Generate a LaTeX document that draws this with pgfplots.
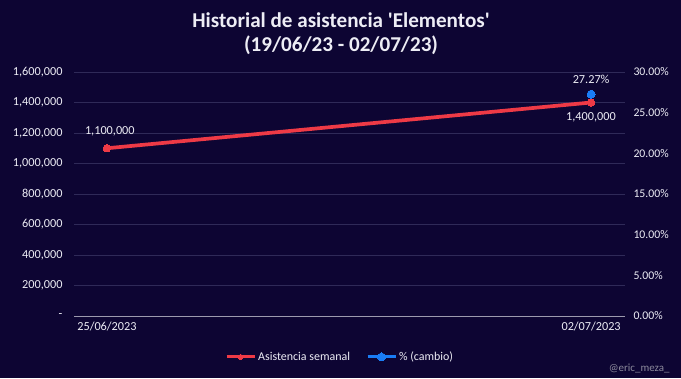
\documentclass[border=0pt]{standalone}
\usepackage{pgfplots}
\pgfplotsset{compat=1.18}
\usepackage{fontspec}
\setmainfont{Carlito}
\definecolor{bg}{HTML}{0D0533}
\definecolor{gridc}{HTML}{2F2A58}
\definecolor{txt}{HTML}{EDEDF5}
\definecolor{redl}{HTML}{EE3A46}
\definecolor{bluep}{HTML}{1A7DF5}
\definecolor{axl}{HTML}{9C9AAE}
\definecolor{wm}{HTML}{8C8A9C}
\begin{document}
\begin{tikzpicture}[x=1bp,y=1bp]
\fill[bg] (0,0) rectangle (681,378);
\path[use as bounding box] (0,0) rectangle (681,378);
\node[txt, font=\fontsize{21.2}{24}\selectfont\bfseries, align=center] at (341,344) {Historial de asistencia \textquotesingle Elementos\textquotesingle\\(19/06/23 - 02/07/23)};
\node[wm, font=\fontsize{11}{13}\selectfont, anchor=east] at (673,10) {@eric\_meza\_};
\pgfplotsset{
  common/.style={
    at={(74bp,62bp)}, anchor=south west, scale only axis,
    width=551bp, height=244bp,
    xmin=-0.068, xmax=1.07,
    /pgf/number format/assume math mode=true,
    scaled y ticks=false,
    tick label style={font=\fontsize{12.3}{14}\selectfont, text=txt},
  }
}
\begin{axis}[common,
  ymin=0, ymax=1600000,
  ytick={0,200000,400000,600000,800000,1000000,1200000,1400000,1600000},
  yticklabels={{-},{200,000},{400,000},{600,000},{800,000},{1,000,000},{1,200,000},{1,400,000},{1,600,000}},
  xtick={0,1}, xticklabels={25/06/2023,02/07/2023},
  extra x ticks={-0.068,0.928}, extra x tick labels={},
  extra x tick style={major tick length=4bp, tick style={draw=axl, line width=0.6bp}, tick align=outside},
  xtick style={draw=none}, ytick style={draw=none},
  ymajorgrids, grid style={gridc, line width=0.8bp},
  axis x line*=bottom, axis y line*=left,
  x axis line style={draw=axl, line width=0.8bp, -},
  y axis line style={draw=none},
  yticklabel style={xshift=-8bp},
  xticklabel style={yshift=-2bp},
]
\addplot[redl, line width=3.7bp, mark=*, mark size=3.7bp, mark options={fill=redl, draw=redl, line width=0bp}] coordinates {(0,1100000) (1,1400000)};
\node[txt, font=\fontsize{12.3}{14}\selectfont] at (axis cs:0.006,1100000) [yshift=17bp] {1,100,000};
\node[txt, font=\fontsize{12.3}{14}\selectfont] at (axis cs:0,1400000) [xshift=484bp, yshift=-15bp] {1,400,000};
\end{axis}
\begin{axis}[common,
  ymin=0, ymax=30,
  ytick={0,5,10,15,20,25,30},
  yticklabels={{0.00\%},{5.00\%},{10.00\%},{15.00\%},{20.00\%},{25.00\%},{30.00\%}},
  axis x line=none, axis y line*=right,
  y axis line style={draw=none}, ytick style={draw=none},
  yticklabel style={xshift=5bp, anchor=west, font=\fontsize{11.8}{14}\selectfont},
  legend style={at={(0.483,-0.168)}, anchor=center, legend columns=2, draw=none, fill=none, text=txt,
    font=\fontsize{12}{14}\selectfont, /tikz/every even column/.append style={column sep=14bp}},
  legend image code/.code={\draw[mark repeat=2,mark phase=2,#1] plot coordinates {(0bp,0bp) (14bp,0bp) (28bp,0bp)};},
]
\addlegendimage{redl, line width=3bp, mark=*, mark size=2.5bp, mark options={fill=redl, draw=redl, line width=0bp}}
\addlegendentry{Asistencia semanal}
\addplot[bluep, line width=3bp, mark=*, mark size=4bp, mark options={fill=bluep, draw=bluep, line width=0bp}] coordinates {(1,27.27)};
\addlegendentry{\% (cambio)}
\node[txt, font=\fontsize{12.3}{14}\selectfont] at (axis cs:1,27.27) [yshift=15bp] {27.27\%};
\end{axis}
\end{tikzpicture}
\end{document}
